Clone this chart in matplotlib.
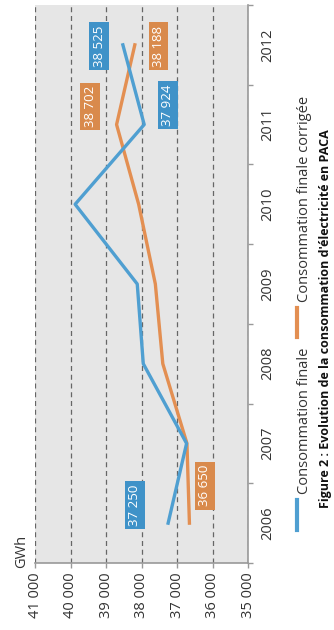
import matplotlib
matplotlib.use('Agg')
import matplotlib.pyplot as plt
from matplotlib.lines import Line2D

plt.rcParams['font.family'] = ['Open Sans', 'DejaVu Sans']

# data (chart is printed rotated by 90 degrees)
years = ['2006', '2007', '2008', '2009', '2010', '2011', '2012']
finale = [37250, 36730, 37950, 38120, 39870, 37924, 38525]
corrigee = [36650, 36720, 37400, 37610, 38080, 38702, 38188]
gwh_ticks = [41000, 40000, 39000, 38000, 37000, 36000, 35000]

blue = '#4f9fd1'
orange = '#e38f52'
blue_box = '#3f92c8'
orange_box = '#d98a4c'

def fmt(v):
    return f'{v:,}'.replace(',', ' ')

fig = plt.figure(figsize=(3.34, 6.30), dpi=100)
ax = fig.add_axes([35/334, 1 - 563/630, 213/334, 558/630])
ax.set_facecolor('#e6e6e6')

pos = list(range(len(years)))
ax.plot(corrigee, pos, color=orange, lw=2.4, zorder=3)
ax.plot(finale, pos, color=blue, lw=2.4, zorder=4)

ax.set_xlim(41000, 35000)
ax.set_ylim(-0.5, len(years) - 0.5)

ax.set_xticks(gwh_ticks)
ax.set_xticklabels([fmt(v) for v in gwh_ticks], rotation=90, fontsize=10.5, color='#333333')
ax.xaxis.grid(True, linestyle=(0, (4, 3)), color='#666666', lw=0.9)
ax.set_axisbelow(True)

ax.yaxis.tick_right()
ax.set_yticks([i - 0.5 for i in range(len(years) + 1)])
ax.set_yticklabels([])
ax.set_yticks(pos, minor=True)
ax.set_yticklabels(years, minor=True, rotation=90, fontsize=10.5, color='#333333', va='center')
ax.tick_params(axis='y', which='minor', length=0, pad=9)
ax.tick_params(axis='both', which='major', length=3.5, color='#999999', width=1)
ax.tick_params(axis='x', pad=3)

for s in ['left', 'top']:
    ax.spines[s].set_visible(False)
for s in ['bottom', 'right']:
    ax.spines[s].set_color('#999999')
    ax.spines[s].set_linewidth(1.2)

# value boxes: (series, index, offset in points)
boxes = [
    (finale, 0, (-24, 13), blue_box),
    (corrigee, 0, (11, 27), orange_box),
    (finale, 5, (17, 14), blue_box),
    (corrigee, 5, (-19, 13), orange_box),
    (finale, 6, (-17, -1), blue_box),
    (corrigee, 6, (17, -1), orange_box),
]
for serie, i, off, col in boxes:
    ax.annotate(fmt(serie[i]), (serie[i], i), xytext=off, textcoords='offset points',
                rotation=90, ha='center', va='center', color='white', fontsize=9.5,
                bbox=dict(boxstyle='square,pad=0.25', fc=col, ec='none'), zorder=5)

fig.text(22/334, 1 - 551/630, 'GWh', rotation=90, ha='center', va='center',
         fontsize=10.5, color='#333333')

# legend
fig.add_artist(Line2D([297/334, 297/334], [1 - 530/630, 1 - 500/630], color=blue, lw=3,
                      transform=fig.transFigure))
fig.text(304/334, 1 - 494/630, 'Consommation finale', rotation=90, ha='center', va='bottom',
         fontsize=10.5, color='#333333')
fig.add_artist(Line2D([297/334, 297/334], [1 - 337/630, 1 - 308/630], color=orange, lw=3,
                      transform=fig.transFigure))
fig.text(304/334, 1 - 302/630, 'Consommation finale corrigée', rotation=90, ha='center',
         va='bottom', fontsize=10.5, color='#333333')

fig.text(326/334, 1 - 508/630, "Figure 2 : Evolution de la consommation d'électricité en PACA",
         rotation=90, ha='center', va='bottom', fontsize=9, weight='bold', color='#111111')

fig.savefig('out.png', dpi=100)
